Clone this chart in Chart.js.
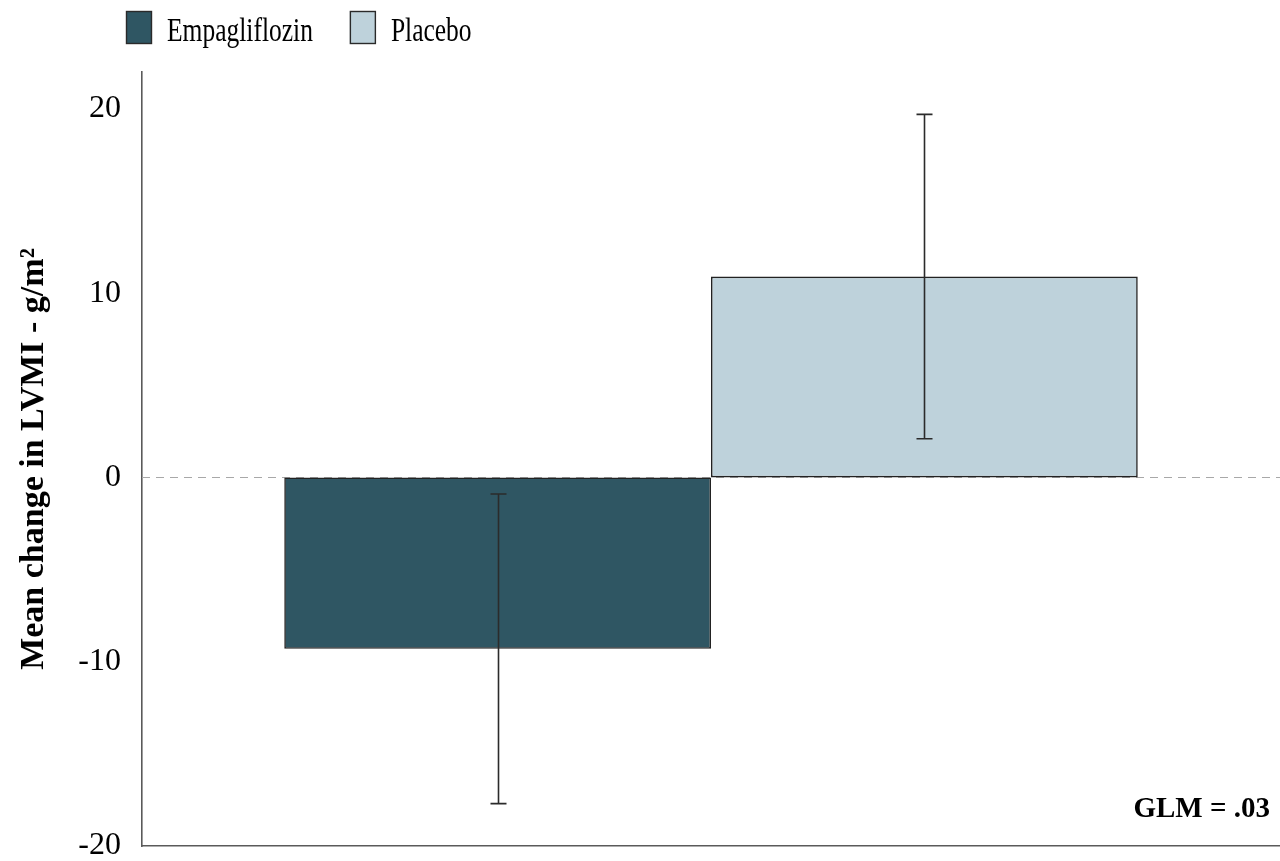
<!DOCTYPE html>
<html>
<head>
<meta charset="utf-8">
<script src="https://cdn.jsdelivr.net/npm/chart.js@4.4.1/dist/chart.umd.min.js"></script>
<style>
  html, body { margin: 0; padding: 0; background: #ffffff; }
  #wrap { width: 1280px; height: 861px; position: relative; }
</style>
</head>
<body>
<div id="wrap"><canvas id="lvmi"></canvas></div>
<script>
// Treatment groups and the mean change in LVMI with 95% CI bounds
const groups = ['Empagliflozin', 'Placebo'];
const meanChange = [-9.3, 10.9];
const ciLower = [-17.7, 2.1];
const ciUpper = [-0.9, 19.7];
const groupColors = ['#2f5663', '#bed2db'];
const yTicks = [-20, -10, 0, 10, 20];
const axisTitle = 'Mean change in LVMI - g/m\u00B2';
const noteText = 'GLM = .03';

const SERIF = '"Liberation Serif", "Times New Roman", Times, serif';

// Dashed reference line at zero
const zeroLine = {
  id: 'zeroLine',
  beforeDatasetsDraw(chart) {
    const { ctx, chartArea, scales } = chart;
    const y = Math.round(scales.y.getPixelForValue(0)) + 0.5;
    ctx.save();
    ctx.strokeStyle = '#a8a8a8';
    ctx.lineWidth = 1.2;
    ctx.setLineDash([8, 6]);
    ctx.beginPath();
    ctx.moveTo(chartArea.left, y);
    ctx.lineTo(chartArea.right, y);
    ctx.stroke();
    ctx.restore();
  }
};

// Confidence-interval whiskers centred on each bar
const ciWhiskers = {
  id: 'ciWhiskers',
  afterDatasetsDraw(chart) {
    const { ctx, scales } = chart;
    ctx.save();
    ctx.strokeStyle = '#2b2b2b';
    ctx.lineWidth = 1.6;
    chart.data.datasets.forEach((ds, i) => {
      const bar = chart.getDatasetMeta(i).data[0];
      if (!bar) return;
      const x = Math.round(bar.x) + 0.5;
      const yLo = scales.y.getPixelForValue(ds.ciLower);
      const yHi = scales.y.getPixelForValue(ds.ciUpper);
      const cap = 8;
      ctx.beginPath();
      ctx.moveTo(x, yLo); ctx.lineTo(x, yHi);
      ctx.moveTo(x - cap, yLo); ctx.lineTo(x + cap, yLo);
      ctx.moveTo(x - cap, yHi); ctx.lineTo(x + cap, yHi);
      ctx.stroke();
    });
    ctx.restore();
  }
};

// Legend row above the plot plus the model note in the corner
const legendAndNote = {
  id: 'legendAndNote',
  afterDraw(chart) {
    const { ctx, chartArea } = chart;
    ctx.save();
    let x = 126;
    const boxTop = 11, boxW = 26, boxH = 33;
    const stretch = 1.3;
    ctx.font = '25.5px ' + SERIF;
    chart.data.datasets.forEach((ds) => {
      ctx.fillStyle = ds.backgroundColor;
      ctx.fillRect(x, boxTop, boxW, boxH);
      ctx.strokeStyle = '#2a2a2a';
      ctx.lineWidth = 1.4;
      ctx.strokeRect(x + 0.5, boxTop + 0.5, boxW - 1, boxH - 1);
      const tx = x + boxW + 15;
      ctx.save();
      ctx.translate(tx, 41);
      ctx.scale(1, stretch);
      ctx.fillStyle = '#000000';
      ctx.textAlign = 'left';
      ctx.textBaseline = 'alphabetic';
      ctx.fillText(ds.label, 0, 0);
      ctx.restore();
      x = tx + ctx.measureText(ds.label).width + 37;
    });

    ctx.font = 'bold 29px ' + SERIF;
    ctx.fillStyle = '#000000';
    ctx.textAlign = 'right';
    ctx.textBaseline = 'alphabetic';
    ctx.fillText(noteText, chartArea.right - 10, 817);
    ctx.restore();
  }
};

const datasets = groups.map((g, i) => ({
  label: g,
  data: [meanChange[i]],
  ciLower: ciLower[i],
  ciUpper: ciUpper[i],
  backgroundColor: groupColors[i],
  borderColor: '#222222',
  borderWidth: 1.6,
  borderSkipped: false,
  categoryPercentage: 0.75,
  barPercentage: 1.0
}));

new Chart(document.getElementById('lvmi'), {
  type: 'bar',
  data: { labels: [''], datasets },
  plugins: [zeroLine, ciWhiskers, legendAndNote],
  options: {
    responsive: true,
    maintainAspectRatio: false,
    animation: false,
    layout: { padding: { top: 72, left: 0, right: 0, bottom: 0 } },
    plugins: {
      legend: { display: false },
      tooltip: { enabled: false }
    },
    scales: {
      x: {
        type: 'category',
        grid: { display: false, drawTicks: false },
        border: { display: true, color: '#5a5a5a', width: 1.6 },
        ticks: { display: false },
        afterFit(scale) { scale.height = 15; }
      },
      y: {
        min: -20,
        max: 22,
        afterBuildTicks(scale) {
          scale.ticks = yTicks.map(v => ({ value: v }));
        },
        afterFit(scale) {
          scale.width = 142;
          scale.paddingTop = 0;
          scale.paddingBottom = 0;
        },
        grid: { display: false, drawTicks: false },
        border: { display: true, color: '#5a5a5a', width: 1.6 },
        ticks: {
          color: '#000000',
          padding: 21,
          font: { family: SERIF, size: 32, lineHeight: 0.9 }
        },
        title: {
          display: true,
          text: axisTitle,
          color: '#000000',
          padding: { top: 14, bottom: 0 },
          font: { family: SERIF, size: 34, weight: 'bold', lineHeight: 1.2 }
        }
      }
    }
  }
});
</script>
</body>
</html>
